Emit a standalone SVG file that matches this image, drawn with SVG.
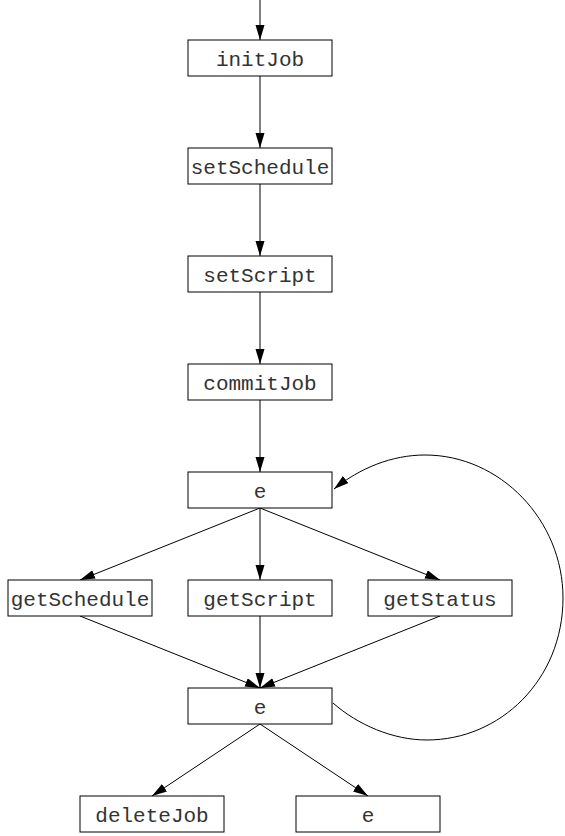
<svg xmlns="http://www.w3.org/2000/svg" width="565" height="836" viewBox="0 0 565 836">
<style>
.n rect{fill:#fff;stroke:#000;stroke-width:1}
.n text{font-family:"Liberation Mono","Courier New",monospace;font-size:21px;fill:#333;text-anchor:middle}
.e path{fill:none;stroke:#000;stroke-width:1}
</style>
<defs>
<marker id="a" markerUnits="userSpaceOnUse" markerWidth="16" markerHeight="10" refX="15" refY="4.5" orient="auto">
<path d="M0,0 L15,4.5 L0,9 z" fill="#000"/>
</marker>
</defs>
<rect width="565" height="836" fill="#fff"/>
<g id="edges" class="e">
<path d="M260,0 L260,40" marker-end="url(#a)"/>
<path d="M260,76 L260,148" marker-end="url(#a)"/>
<path d="M260,184 L260,256" marker-end="url(#a)"/>
<path d="M260,292 L260,364" marker-end="url(#a)"/>
<path d="M260,400 L260,472" marker-end="url(#a)"/>
<path d="M260,508 L80,580" marker-end="url(#a)"/>
<path d="M260,508 L260,580" marker-end="url(#a)"/>
<path d="M260,508 L440,580" marker-end="url(#a)"/>
<path d="M80,616 L260,688" marker-end="url(#a)"/>
<path d="M260,616 L260,688" marker-end="url(#a)"/>
<path d="M440,616 L260,688" marker-end="url(#a)"/>
<path d="M260,724 L152,796" marker-end="url(#a)"/>
<path d="M260,724 L368,796" marker-end="url(#a)"/>
<path d="M333,703 C358,725 393,740 427,740 C500,740 563,680 563,598 C563,520 500,455 425,455 C392,455 360,468 334,489" marker-end="url(#a)"/>
</g>
<g id="initJob" class="n"><rect x="188" y="40" width="144" height="36"/><text x="260" y="65.5">initJob</text></g>
<g id="setSchedule" class="n"><rect x="188" y="148" width="144" height="36"/><text x="260" y="173.5">setSchedule</text></g>
<g id="setScript" class="n"><rect x="188" y="256" width="144" height="36"/><text x="260" y="281.5">setScript</text></g>
<g id="commitJob" class="n"><rect x="188" y="364" width="144" height="36"/><text x="260" y="389.5">commitJob</text></g>
<g id="e1" class="n"><rect x="188" y="472" width="144" height="36"/><text x="260" y="497.5">e</text></g>
<g id="getSchedule" class="n"><rect x="8" y="580" width="144" height="36"/><text x="80" y="605.5">getSchedule</text></g>
<g id="getScript" class="n"><rect x="188" y="580" width="144" height="36"/><text x="260" y="605.5">getScript</text></g>
<g id="getStatus" class="n"><rect x="368" y="580" width="144" height="36"/><text x="440" y="605.5">getStatus</text></g>
<g id="e2" class="n"><rect x="188" y="688" width="144" height="36"/><text x="260" y="713.5">e</text></g>
<g id="deleteJob" class="n"><rect x="80" y="796" width="144" height="36"/><text x="152" y="821.5">deleteJob</text></g>
<g id="e3" class="n"><rect x="296" y="796" width="144" height="36"/><text x="368" y="821.5">e</text></g>
</svg>
